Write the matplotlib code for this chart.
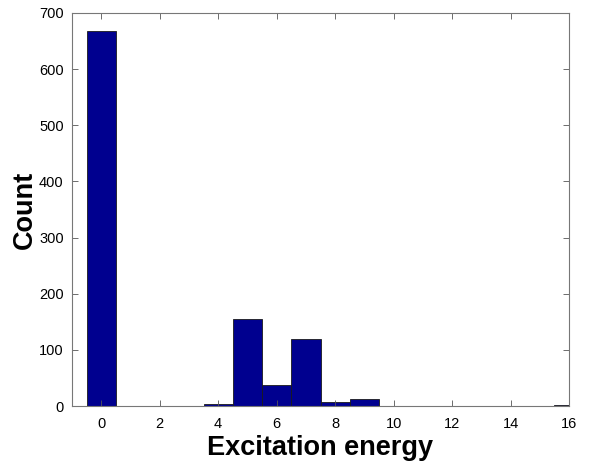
import matplotlib
matplotlib.use("Agg")
import matplotlib.pyplot as plt
import numpy as np

centers = [0, 1, 2, 3, 4, 5, 6, 7, 8, 9, 10, 11, 12, 13, 14, 15, 16]
counts = [668, 0, 0, 0, 4, 155, 37, 120, 7, 13, 0, 0, 0, 0, 0, 0, 2]
xticks = [0, 2, 4, 6, 8, 10, 12, 14, 16]
yticks = [0, 100, 200, 300, 400, 500, 600, 700]

plt.rcParams['font.family'] = ['Liberation Sans', 'DejaVu Sans']
fig = plt.figure(figsize=(5.92, 4.62), dpi=100)
ax = fig.add_axes([72/592, 56/462, 497/592, 393/462])
ax.bar(centers, counts, width=1.0, color='#00008F', edgecolor='#1a1a1a', linewidth=0.6)
ax.set_xlim(-1, 16)
ax.set_ylim(0, 700)
ax.set_xticks(xticks)
ax.set_yticks(yticks)
ax.tick_params(direction='in', top=True, right=True, labelsize=10.5, length=4, width=0.6, color='#555555', pad=6)
ax.tick_params(axis='x', pad=8)
for s in ax.spines.values():
    s.set_color('#777777')
    s.set_linewidth(0.8)
ax.set_xlabel('Excitation energy', fontsize=19.5, fontweight='bold', labelpad=3)
ax.set_ylabel('Count', fontsize=19.5, fontweight='bold', labelpad=1)
fig.savefig('out.png', dpi=100)
